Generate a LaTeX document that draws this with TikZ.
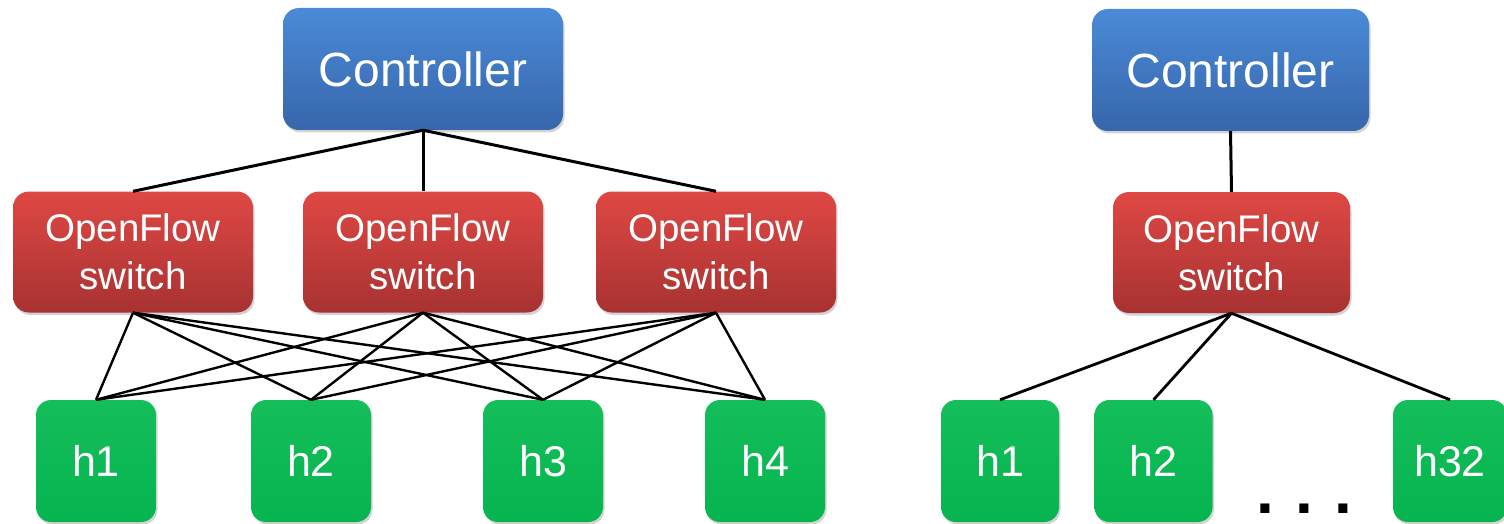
\documentclass[tikz,border=0pt]{standalone}
\usepackage{fontspec}
\setmainfont{Liberation Sans}
\usetikzlibrary{shadows}
\begin{document}
\begin{tikzpicture}[x=1pt,y=-1pt,
  box/.style={rectangle, rounded corners=16pt, inner sep=0pt, text=white, align=center,
    drop shadow={shadow xshift=1.5pt, shadow yshift=-2.5pt, opacity=0.35}},
  ctrl/.style={box, minimum width=280pt, minimum height=122pt,
    top color=ctrlTop, bottom color=ctrlBot, font=\fontsize{48}{56}\selectfont},
  sw/.style={box, minimum width=240pt, minimum height=121pt,
    top color=swTop, bottom color=swBot, font=\fontsize{38.5}{48}\selectfont},
  host/.style={box, rounded corners=15pt, minimum width=120pt, minimum height=122pt,
    top color=hostTop, bottom color=hostBot, font=\fontsize{43}{50}\selectfont},
  uplink/.style={line width=3pt},
  downlink/.style={line width=2.4pt},
  fanout/.style={line width=2.8pt}]
\definecolor{ctrlTop}{HTML}{4A8AD8}
\definecolor{ctrlBot}{HTML}{3766AB}
\definecolor{swTop}{HTML}{DF4844}
\definecolor{swBot}{HTML}{A73232}
\definecolor{hostTop}{HTML}{14BE5A}
\definecolor{hostBot}{HTML}{06B450}
\useasboundingbox (0,0) rectangle (1504,524);
\clip (0,0) rectangle (1504,524);

% fat-tree style testbed: one controller, three switches, four hosts
\node[ctrl] (c) at (423,69) {Controller};
\node[sw] (s1) at (133,252) {OpenFlow\\switch};
\node[sw] (s2) at (423,252) {OpenFlow\\switch};
\node[sw] (s3) at (716,252) {OpenFlow\\switch};
\node[host] (h1) at (96,461) {h1};
\node[host] (h2) at (311,461) {h2};
\node[host] (h3) at (543,461) {h3};
\node[host] (h4) at (765,461) {h4};

\foreach \s in {s1,s2,s3} \draw[uplink] (c.south) -- (\s.north);
\foreach \s in {s1,s2,s3}
  \foreach \h in {h1,h2,h3,h4}
    \draw[downlink] (\s.south) -- (\h.north);

% single-switch testbed with 32 hosts
\node[ctrl, minimum width=277pt] (rc) at (1230.5,70) {Controller};
\node[sw, minimum width=237pt] (rs) at (1231.5,252.5) {OpenFlow\\switch};
\node[host, minimum width=118pt] (r1) at (1000,461) {h1};
\node[host, minimum width=118pt] (r2) at (1153.5,461) {h2};
\node[host, minimum width=114pt] (r32) at (1450,461) {h32};
\node[font=\fontsize{64}{64}\selectfont\bfseries, anchor=base, inner sep=0pt] (dots) at (1304,513) {.\,\,.\,\,.};

\draw[uplink] (rc.south) -- (rs.north);
\foreach \h in {r1,r2,r32} \draw[fanout] (rs.south) -- (\h.north);
\end{tikzpicture}
\end{document}
